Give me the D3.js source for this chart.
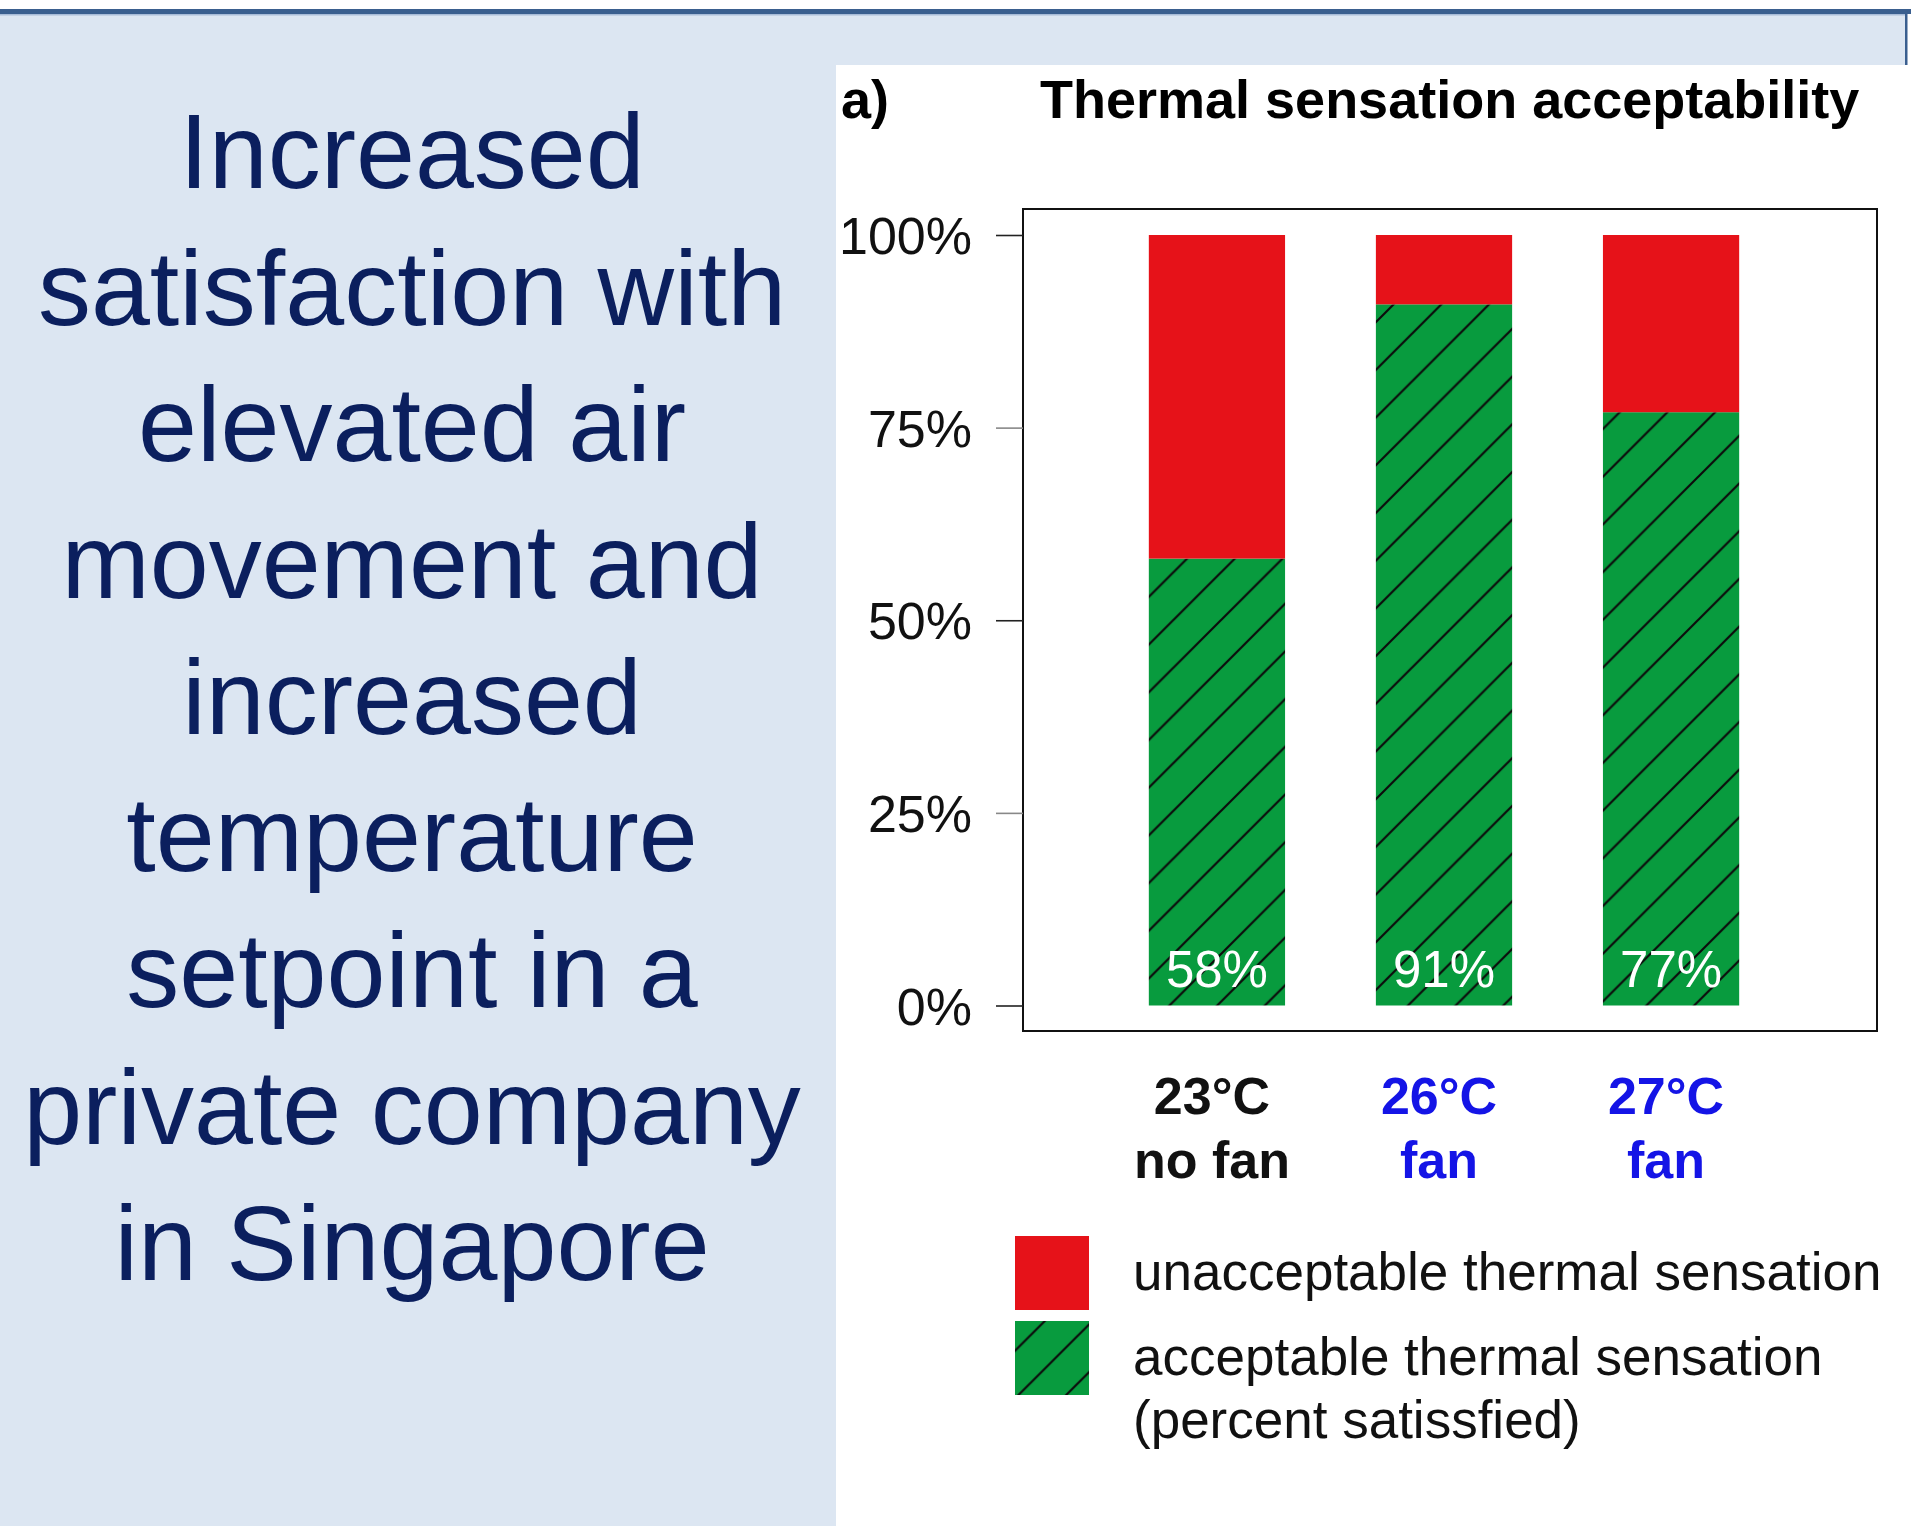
<!DOCTYPE html>
<html>
<head>
<meta charset="utf-8">
<script src="https://cdn.jsdelivr.net/npm/d3@7"></script>
<style>
  html, body { margin: 0; padding: 0; background: #fff; }
  svg { display: block; font-family: "Liberation Sans", Arial, sans-serif; }
</style>
</head>
<body>
<svg id="chart" width="1911" height="1526"></svg>
<script>
// chart data
const tempLabels = ["23°C", "26°C", "27°C"];
const fanLabels = ["no fan", "fan", "fan"];
const acceptable = [58, 91, 77];
const unacceptable = [42, 9, 23];
const yTicks = [0, 25, 50, 75, 100];
const headline = ["Increased", "satisfaction with", "elevated air", "movement and",
  "increased", "temperature", "setpoint in a", "private company", "in Singapore"];
const legendLabels = [["unacceptable thermal sensation"], ["acceptable thermal sensation", "(percent satissfied)"]];

const RED = "#e61219", GREEN = "#089b3e", NAVY = "#0b1f5e", BLUE = "#1414e6";

const svg = d3.select("#chart");

// slide background
svg.append("rect").attr("x", 0).attr("y", 0).attr("width", 1911).attr("height", 1526).attr("fill", "#fff");
svg.append("rect").attr("x", 0).attr("y", 14).attr("width", 1907).attr("height", 1512).attr("fill", "#dce6f2");
svg.append("rect").attr("x", 0).attr("y", 9).attr("width", 1911).attr("height", 5).attr("fill", "#3a5f8f");
svg.append("rect").attr("x", 0).attr("y", 14).attr("width", 1907).attr("height", 1.5).attr("fill", "#a8bcd8");
svg.append("rect").attr("x", 1905).attr("y", 14).attr("width", 2.5).attr("height", 52).attr("fill", "#3a5f8f");

// left text block
svg.append("g").selectAll("text").data(headline).join("text")
  .attr("x", 412)
  .attr("y", (d, i) => 188 + i * 136.5)
  .attr("text-anchor", "middle")
  .attr("font-size", 106)
  .attr("fill", NAVY)
  .text(d => d);

// white chart panel
svg.append("rect").attr("x", 836).attr("y", 65).attr("width", 1075).attr("height", 1461).attr("fill", "#fff");

// hatch pattern
const defs = svg.append("defs");
const hs = 47.7;
const pat = defs.append("pattern")
  .attr("id", "hatch")
  .attr("patternUnits", "userSpaceOnUse")
  .attr("x", 28.5).attr("y", 0)
  .attr("width", hs).attr("height", hs);
pat.append("rect").attr("width", hs).attr("height", hs).attr("fill", GREEN);
pat.append("path")
  .attr("d", `M${-hs/2},${hs/2} L${hs/2},${-hs/2} M0,${hs} L${hs},0 M${hs/2},${hs*1.5} L${hs*1.5},${hs/2}`)
  .attr("stroke", "#0b0b0b").attr("stroke-width", 2.2);

// titles
svg.append("text").attr("x", 841).attr("y", 118).attr("font-size", 54).attr("font-weight", "bold").text("a)");
svg.append("text").attr("x", 1040).attr("y", 118).attr("font-size", 54).attr("font-weight", "bold")
  .text("Thermal sensation acceptability");

// scales
const x = d3.scaleBand().domain(tempLabels).range([1058, 1830]).paddingInner(0.4).paddingOuter(0.4);
const y = d3.scaleLinear().domain([0, 100]).range([1005.5, 235]);

// plot frame
svg.append("rect").attr("x", 1023).attr("y", 209).attr("width", 854).attr("height", 822)
  .attr("fill", "none").attr("stroke", "#111").attr("stroke-width", 2);

// y axis
const yAxis = svg.append("g")
  .attr("transform", "translate(1023,0)")
  .call(d3.axisLeft(y).tickValues(yTicks).tickSize(27).tickPadding(24).tickFormat(d => d + "%"));
yAxis.select(".domain").remove();
yAxis.selectAll(".tick line").attr("stroke", d => d % 50 === 0 ? "#222" : "#888").attr("stroke-width", 1.6);
yAxis.selectAll(".tick text").attr("font-size", 52).attr("fill", "#111")
  .attr("font-family", "'Liberation Sans', Arial, sans-serif").attr("dy", "0.36em");

// stacked bars
const rows = tempLabels.map((t, i) => ({ cat: t, acc: acceptable[i], unacc: unacceptable[i] }));
const series = d3.stack().keys(["acc", "unacc"])(rows);
svg.append("g").selectAll("g").data(series).join("g")
  .attr("fill", d => d.key === "acc" ? "url(#hatch)" : RED)
  .selectAll("rect").data(d => d).join("rect")
  .attr("x", d => x(d.data.cat))
  .attr("width", x.bandwidth())
  .attr("y", d => y(d[1]))
  .attr("height", d => y(d[0]) - y(d[1]));

// value labels
svg.append("g").selectAll("text").data(rows).join("text")
  .attr("x", d => x(d.cat) + x.bandwidth() / 2)
  .attr("y", y(0) - 19)
  .attr("text-anchor", "middle")
  .attr("font-size", 51)
  .attr("fill", "#fff")
  .text(d => d.acc + "%");

// category labels
const cats = svg.append("g").selectAll("g").data(tempLabels).join("g")
  .attr("fill", (d, i) => fanLabels[i] === "fan" ? BLUE : "#111")
  .attr("font-weight", "bold")
  .attr("font-size", 52)
  .attr("text-anchor", "middle");
cats.append("text").attr("x", d => x(d) + x.bandwidth() / 2 - 5).attr("y", 1114).text(d => d);
cats.append("text").attr("x", d => x(d) + x.bandwidth() / 2 - 5).attr("y", 1178).text((d, i) => fanLabels[i]);

// legend
const legend = svg.append("g");
const legendFills = [RED, "url(#hatch)"];
legend.selectAll("rect").data(legendLabels).join("rect")
  .attr("x", 1015).attr("y", (d, i) => 1236 + i * 85)
  .attr("width", 74).attr("height", 74)
  .attr("fill", (d, i) => legendFills[i]);
const legendBase = [1290, 1375];
legend.selectAll("text").data(legendLabels).join("text")
  .attr("font-size", 53).attr("fill", "#111")
  .each(function (lines, i) {
    d3.select(this).selectAll("tspan").data(lines).join("tspan")
      .attr("x", 1133)
      .attr("y", (l, j) => legendBase[i] + j * 63)
      .text(l => l);
  });
</script>
</body>
</html>
